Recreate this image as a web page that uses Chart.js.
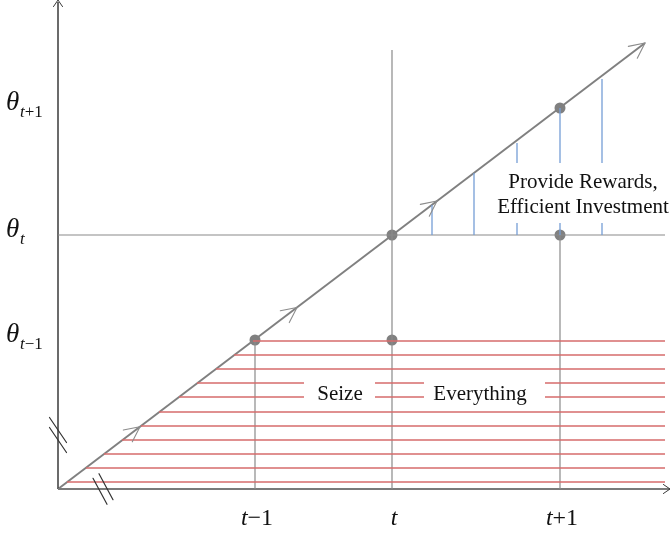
<!DOCTYPE html>
<html>
<head>
<meta charset="utf-8">
<script src="https://cdn.jsdelivr.net/npm/chart.js@4.4.0/dist/chart.umd.min.js"></script>
<style>
html, body { margin: 0; padding: 0; background: #fff; }
#wrap { width: 671px; height: 533px; }
</style>
</head>
<body>
<div id="wrap"><canvas id="mycanvas" width="671" height="533"></canvas></div>
<script>
// periods on the horizontal axis
var periodNames = ["-1", "", "+1"];
var periodX = [1.97, 3.34, 5.02];

// type levels on the vertical axis
var thetaNames = ["t-1", "t", "t+1"];
var thetaY = [1.49, 2.54, 3.81];

// the 45-ish degree path and its arrows
var diagonalEnd = [5.87, 4.46];
var arrowX = [0.82, 2.39, 3.79, 5.87];
var axisEnd = [6.12, 4.87];
var vertTopT = 4.39;

// blue "Provide Rewards" verticals
var rewardX = [3.74, 4.16, 4.59, 5.02, 5.44];
var rewardTop = [2.84, 3.16, 3.46, 3.81, 4.10];
var rewardBreak = [false, false, true, true, true];
var rewardGap = [2.66, 3.26];

// red "Seize Everything" horizontals
var seizeY = [1.48, 1.34, 1.20, 1.06, 0.92, 0.77, 0.63, 0.49, 0.35, 0.21, 0.07];
var seizeStart = [1.95, 1.76, 1.58, 1.39, 1.21, 1.01, 0.83, 0.64, 0.46, 0.28, 0.09];
var seizeEnd = 6.07;
var seizeBreakRows = [3, 4];
var seizeGaps = [[2.46, 3.17], [3.66, 4.87]];

// dots
var dotX = [1.97, 3.34, 3.34, 5.02, 5.02];
var dotY = [1.49, 1.49, 2.54, 3.81, 2.54];

// text in the picture
var rewardText = ["Provide Rewards,", "Efficient Investment"];
var rewardTextPos = [[5.25, 3.07], [5.25, 2.82]];
var seizeText = ["Seize", "Everything"];
var seizeTextPos = [[2.82, 0.95], [4.22, 0.95]];

// axis break marks
var breakY = 0.54;
var breakX = 0.45;

var GAP = { x: NaN, y: null };

function segments(list) {
	var out = [];
	for (var i = 0; i < list.length; i++) {
		out.push({ x: list[i][0], y: list[i][1] });
		out.push({ x: list[i][2], y: list[i][3] });
		out.push(GAP);
	}
	return out;
}

function lineSet(data, color, width) {
	return {
		data: data,
		showLine: true,
		spanGaps: false,
		borderColor: color,
		backgroundColor: color,
		borderWidth: width,
		pointRadius: 0,
		pointHoverRadius: 0,
		fill: false
	};
}

// build red rows
var redSegs = [];
for (var i = 0; i < seizeY.length; i++) {
	if (seizeBreakRows.indexOf(i) >= 0) {
		redSegs.push([seizeStart[i], seizeY[i], seizeGaps[0][0], seizeY[i]]);
		redSegs.push([seizeGaps[0][1], seizeY[i], seizeGaps[1][0], seizeY[i]]);
		redSegs.push([seizeGaps[1][1], seizeY[i], seizeEnd, seizeY[i]]);
	} else {
		redSegs.push([seizeStart[i], seizeY[i], seizeEnd, seizeY[i]]);
	}
}

// build blue verticals
var blueSegs = [];
for (var i = 0; i < rewardX.length; i++) {
	if (rewardBreak[i]) {
		blueSegs.push([rewardX[i], thetaY[1], rewardX[i], rewardGap[0]]);
		blueSegs.push([rewardX[i], rewardGap[1], rewardX[i], rewardTop[i]]);
	} else {
		blueSegs.push([rewardX[i], thetaY[1], rewardX[i], rewardTop[i]]);
	}
}

var graySegs = [
	[0, thetaY[1], seizeEnd, thetaY[1]],
	[periodX[0], 0, periodX[0], thetaY[0]],
	[periodX[1], 0, periodX[1], vertTopT],
	[periodX[2], 0, periodX[2], thetaY[1]]
];

var dots = [];
for (var i = 0; i < dotX.length; i++) dots.push({ x: dotX[i], y: dotY[i] });

var chartdata = {
	datasets: [
		lineSet(segments(redSegs), "rgb(214,108,108)", 1.3),
		lineSet(segments(blueSegs), "rgb(118,158,214)", 1.3),
		lineSet(segments(graySegs), "#8a8a8a", 1.2),
		lineSet(segments([[0, 0, axisEnd[0], 0]]), "#7a7a7a", 2),
		lineSet(segments([[0, 0, 0, axisEnd[1]]]), "#3a3a3a", 1.5),
		lineSet(segments([[0, 0, diagonalEnd[0], diagonalEnd[1]]]), "#808080", 2),
		{
			data: dots,
			showLine: false,
			pointRadius: 5.5,
			pointHoverRadius: 5.5,
			pointBackgroundColor: "#808080",
			pointBorderWidth: 0
		}
	]
};

function chevron(ctx, x, y, ang, len, spread) {
	ctx.beginPath();
	ctx.moveTo(x + len * Math.cos(ang + Math.PI - spread), y + len * Math.sin(ang + Math.PI - spread));
	ctx.lineTo(x, y);
	ctx.lineTo(x + len * Math.cos(ang + Math.PI + spread), y + len * Math.sin(ang + Math.PI + spread));
	ctx.stroke();
}

function runs(ctx, parts, x, y, align) {
	var w = 0;
	for (var i = 0; i < parts.length; i++) {
		ctx.font = parts[i][1];
		w += ctx.measureText(parts[i][0]).width;
	}
	var cx = align === "center" ? x - w / 2 : x;
	ctx.textAlign = "left";
	for (var i = 0; i < parts.length; i++) {
		ctx.font = parts[i][1];
		ctx.fillText(parts[i][0], cx, y);
		cx += ctx.measureText(parts[i][0]).width;
	}
}

var decorations = {
	id: "decorations",
	afterDatasetsDraw: function(chart) {
		var ctx = chart.ctx;
		var xs = chart.scales.x, ys = chart.scales.y;
		ctx.save();
		ctx.lineCap = "round";

		// arrows along the path
		var ang = Math.atan2(ys.getPixelForValue(diagonalEnd[1]) - ys.getPixelForValue(0),
			xs.getPixelForValue(diagonalEnd[0]) - xs.getPixelForValue(0));
		var slope = diagonalEnd[1] / diagonalEnd[0];
		ctx.strokeStyle = "#8c8c8c";
		ctx.lineWidth = 1.1;
		for (var i = 0; i < arrowX.length; i++) {
			chevron(ctx, xs.getPixelForValue(arrowX[i]), ys.getPixelForValue(arrowX[i] * slope), ang, 17, 0.45);
		}

		// axis arrows
		ctx.strokeStyle = "#3a3a3a";
		ctx.lineWidth = 1;
		chevron(ctx, xs.getPixelForValue(0), ys.getPixelForValue(axisEnd[1]) - 2, -Math.PI / 2, 8, 0.6);
		chevron(ctx, xs.getPixelForValue(axisEnd[0]), ys.getPixelForValue(0), 0, 8, 0.6);

		// break marks
		ctx.strokeStyle = "#333";
		ctx.lineWidth = 1.2;
		var bx = xs.getPixelForValue(0), by = ys.getPixelForValue(breakY);
		[-5, 5].forEach(function(o) {
			ctx.beginPath();
			ctx.moveTo(bx - 8.5, by + o - 12.5);
			ctx.lineTo(bx + 8.5, by + o + 12.5);
			ctx.stroke();
		});
		bx = xs.getPixelForValue(breakX); by = ys.getPixelForValue(0);
		[[-3, 2.3], [3, -2.3]].forEach(function(o) {
			ctx.beginPath();
			ctx.moveTo(bx + o[0] - 7, by + o[1] - 13);
			ctx.lineTo(bx + o[0] + 7, by + o[1] + 13);
			ctx.stroke();
		});

		// text
		ctx.fillStyle = "#111";
		ctx.textBaseline = "middle";
		ctx.textAlign = "center";
		ctx.font = "21px 'Liberation Serif'";
		for (var i = 0; i < rewardText.length; i++) {
			ctx.fillText(rewardText[i], xs.getPixelForValue(rewardTextPos[i][0]), ys.getPixelForValue(rewardTextPos[i][1]));
		}
		for (var i = 0; i < seizeText.length; i++) {
			ctx.fillText(seizeText[i], xs.getPixelForValue(seizeTextPos[i][0]), ys.getPixelForValue(seizeTextPos[i][1]));
		}

		// tick labels
		ctx.textBaseline = "alphabetic";
		var it = "italic 24px 'Liberation Serif'", up = "24px 'Liberation Serif'";
		for (var i = 0; i < periodX.length; i++) {
			var parts = [["t", it]];
			if (periodNames[i]) parts.push([periodNames[i].replace("-", "\u2212"), up]);
			runs(ctx, parts, xs.getPixelForValue(periodX[i]) + 2, 525, "center");
		}
		for (var i = 0; i < thetaY.length; i++) {
			var py = ys.getPixelForValue(thetaY[i]);
			ctx.font = "italic 27px 'Liberation Serif'";
			ctx.textAlign = "left";
			ctx.fillText("\u03b8", 6, py + 2);
			var n = thetaNames[i];
			var sub = [["t", "italic 17px 'Liberation Serif'"]];
			if (n.length > 1) sub.push([n.slice(1).replace("-", "\u2212"), "17px 'Liberation Serif'"]);
			runs(ctx, sub, 20, py + 9, "left");
		}
		ctx.restore();
	}
};

var ctx = document.getElementById("mycanvas");

var diagram = new Chart(ctx, {
	type: "scatter",
	data: chartdata,
	plugins: [decorations],
	options: {
		responsive: false,
		animation: false,
		layout: { padding: 0, autoPadding: false },
		plugins: { legend: { display: false }, tooltip: { enabled: false } },
		scales: {
			x: { type: "linear", min: -0.58, max: 6.13, display: false },
			y: { type: "linear", min: -0.44, max: 4.89, display: false }
		}
	}
});
</script>
</body>
</html>
